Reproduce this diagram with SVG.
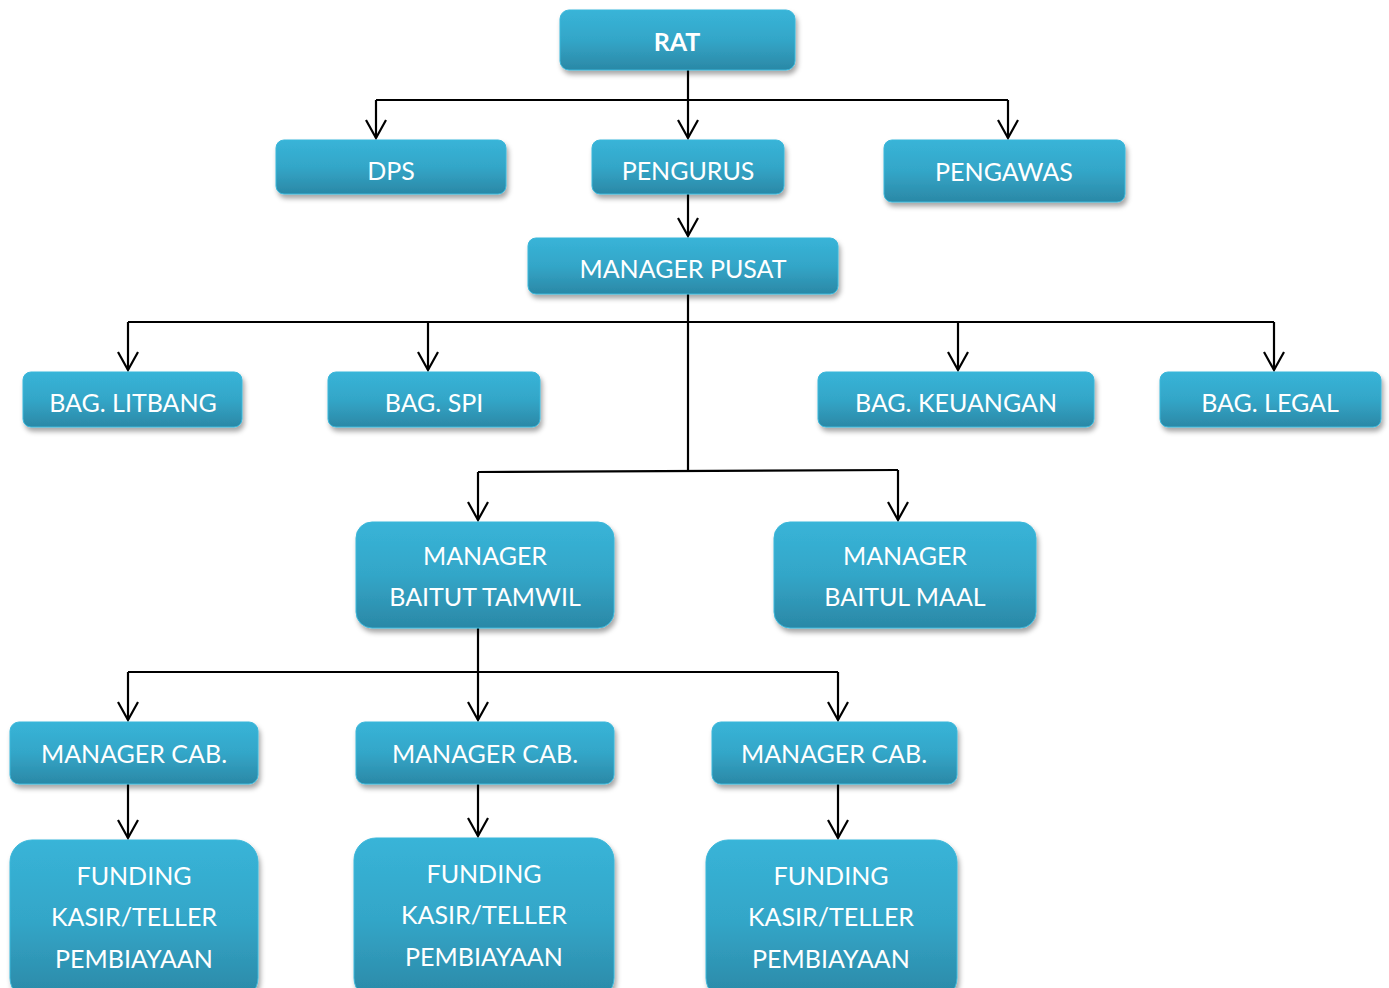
<svg xmlns="http://www.w3.org/2000/svg" width="1389" height="988" viewBox="0 0 1389 988">
<defs>
<linearGradient id="g" x1="0" y1="0" x2="0" y2="1">
<stop offset="0" stop-color="#38b4d8"/>
<stop offset="0.5" stop-color="#33a6c8"/>
<stop offset="1" stop-color="#2b88a6"/>
</linearGradient>
<filter id="sh" x="-10%" y="-10%" width="125%" height="135%">
<feDropShadow dx="2" dy="4" stdDeviation="2.5" flood-color="#000" flood-opacity="0.35"/>
</filter>
<marker id="ar" markerWidth="24" markerHeight="24" refX="20" refY="12" orient="auto" markerUnits="userSpaceOnUse">
<path d="M2,2 L20,12 L2,22" fill="none" stroke="#000" stroke-width="2.2"/>
</marker>
</defs>
<style>
.n rect{fill:url(#g);filter:url(#sh);stroke:#3ab7da;stroke-width:1}
.n text{fill:#fff;font-family:Lato,"Open Sans",sans-serif;font-size:25px;text-anchor:middle}
.c path{fill:none;stroke:#000;stroke-width:2.2}
.c .a{marker-end:url(#ar)}
</style>
<rect width="1389" height="988" fill="#fff"/>
<g class="c" id="connectors">
<path class="a" d="M688,70 V138"/>
<path d="M376,100 H1008"/>
<path class="a" d="M376,100 V138"/>
<path class="a" d="M1008,100 V138"/>
<path class="a" d="M688,194 V236"/>
<path d="M688,294 V471"/>
<path d="M128,322 H1274"/>
<path class="a" d="M128,322 V370"/>
<path class="a" d="M428,322 V370"/>
<path class="a" d="M958,322 V370"/>
<path class="a" d="M1274,322 V370"/>
<path d="M478,472 L898,470"/>
<path class="a" d="M478,472 V520"/>
<path class="a" d="M898,470 V520"/>
<path d="M478,628 V672"/>
<path d="M128,672 H838"/>
<path class="a" d="M128,672 V720"/>
<path class="a" d="M478,672 V720"/>
<path class="a" d="M838,672 V720"/>
<path class="a" d="M128,784 V838"/>
<path class="a" d="M478,784 V836"/>
<path class="a" d="M838,784 V838"/>
</g>
<g class="n" id="rat"><rect x="560" y="10" width="235" height="60" rx="9"/><text x="677" y="51" font-weight="bold" font-size="27">RAT</text></g>
<g class="n" id="dps"><rect x="276" y="140" width="230" height="54" rx="8"/><text x="391" y="180">DPS</text></g>
<g class="n" id="pengurus"><rect x="592" y="140" width="192" height="54" rx="8"/><text x="688" y="180">PENGURUS</text></g>
<g class="n" id="pengawas"><rect x="884" y="140" width="241" height="62" rx="8"/><text x="1004" y="181">PENGAWAS</text></g>
<g class="n" id="manager-pusat"><rect x="528" y="238" width="310" height="56" rx="8"/><text x="683" y="278">MANAGER PUSAT</text></g>
<g class="n" id="litbang"><rect x="23" y="372" width="219" height="55" rx="8"/><text x="133" y="412">BAG. LITBANG</text></g>
<g class="n" id="spi"><rect x="328" y="372" width="212" height="55" rx="8"/><text x="434" y="412">BAG. SPI</text></g>
<g class="n" id="keuangan"><rect x="818" y="372" width="276" height="55" rx="8"/><text x="956" y="412">BAG. KEUANGAN</text></g>
<g class="n" id="legal"><rect x="1160" y="372" width="221" height="55" rx="8"/><text x="1270" y="412">BAG. LEGAL</text></g>
<g class="n" id="tamwil"><rect x="356" y="522" width="258" height="106" rx="16"/><text x="485" y="565">MANAGER</text><text x="485" y="606">BAITUT TAMWIL</text></g>
<g class="n" id="maal"><rect x="774" y="522" width="262" height="106" rx="16"/><text x="905" y="565">MANAGER</text><text x="905" y="606">BAITUL MAAL</text></g>
<g class="n" id="cab1"><rect x="10" y="722" width="248" height="62" rx="9"/><text x="134" y="763">MANAGER CAB.</text></g>
<g class="n" id="cab2"><rect x="356" y="722" width="258" height="62" rx="9"/><text x="485" y="763">MANAGER CAB.</text></g>
<g class="n" id="cab3"><rect x="712" y="722" width="245" height="62" rx="9"/><text x="834" y="763">MANAGER CAB.</text></g>
<g class="n" id="unit1"><rect x="10" y="840" width="248" height="160" rx="22"/><text x="134" y="885">FUNDING</text><text x="134" y="926">KASIR/TELLER</text><text x="134" y="968">PEMBIAYAAN</text></g>
<g class="n" id="unit2"><rect x="354" y="838" width="260" height="162" rx="22"/><text x="484" y="883">FUNDING</text><text x="484" y="924">KASIR/TELLER</text><text x="484" y="966">PEMBIAYAAN</text></g>
<g class="n" id="unit3"><rect x="706" y="840" width="251" height="160" rx="22"/><text x="831" y="885">FUNDING</text><text x="831" y="926">KASIR/TELLER</text><text x="831" y="968">PEMBIAYAAN</text></g>
</svg>
